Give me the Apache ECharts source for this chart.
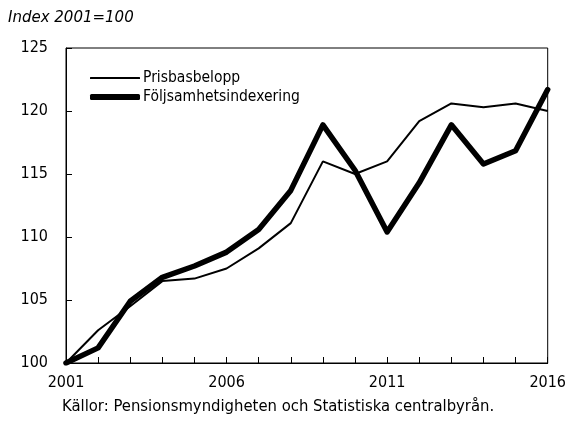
<!DOCTYPE html>
<html>
<head>
<meta charset="utf-8">
<script src="https://cdn.jsdelivr.net/npm/echarts@6/dist/echarts.min.js"></script>
<style>
  html, body { margin: 0; padding: 0; background: #fff; }
  #chart { width: 569px; height: 423px; }
</style>
</head>
<body>
<div id="chart"></div>
<script>
const years = ['2001', '2002', '2003', '2004', '2005', '2006', '2007', '2008',
  '2009', '2010', '2011', '2012', '2013', '2014', '2015', '2016']
// Index 2001=100
const prisbasbelopp = [100, 102.6, 104.5, 106.5, 106.7, 107.5, 109.1, 111.1,
  116.0, 115.0, 116.0, 119.2, 120.6, 120.3, 120.6, 120.0]
const foljsamhet = [100, 101.2, 104.9, 106.8, 107.7, 108.8, 110.6, 113.7,
  118.9, 115.3, 110.4, 114.3, 118.9, 115.8, 116.85, 121.7]

const narrow = "'Liberation Sans Narrow', 'DejaVu Sans Condensed', 'Arial Narrow', sans-serif"

var myChart = echarts.init(document.getElementById('chart'), null, { renderer: 'canvas' })

// 每个图例单独一个 legend，方便设置不同线宽
const legendBase = {
  left: 85,
  icon: 'roundRect',
  itemWidth: 50,
  itemGap: 0,
  itemStyle: { color: '#000', borderWidth: 0 },
  textStyle: { fontFamily: narrow, fontSize: 15.5, color: '#000', padding: [0, 0, 0, -2] }
}

var option = {
  animation: false,
  title: {
    text: 'Index 2001=100',
    left: 3,
    top: 6,
    textStyle: {
      fontFamily: 'DejaVu Sans',
      fontStyle: 'italic',
      fontWeight: 'normal',
      fontSize: 15,
      color: '#000'
    }
  },
  graphic: [{
    type: 'text',
    left: 62,
    top: 398,
    style: {
      text: 'Källor: Pensionsmyndigheten och Statistiska centralbyrån.',
      font: '16.5px ' + narrow,
      fill: '#000'
    }
  }],
  legend: [
    { ...legendBase, top: 65, itemHeight: 2, data: ['Prisbasbelopp'] },
    { ...legendBase, top: 84, itemHeight: 6, data: ['Följsamhetsindexering'] }
  ],
  grid: {
    left: 66,
    right: 18,
    top: 48,
    bottom: 60,
    show: true,
    borderColor: '#000',
    borderWidth: 1,
    containLabel: false
  },
  xAxis: {
    type: 'category',
    boundaryGap: false,
    data: years,
    axisLine: { lineStyle: { color: '#000', width: 1 } },
    axisTick: { inside: true, length: 6, interval: 0, lineStyle: { color: '#000' } },
    axisLabel: { interval: 4, margin: 12, color: '#000', fontFamily: narrow, fontSize: 16 },
    splitLine: { show: false }
  },
  yAxis: {
    type: 'value',
    min: 100,
    max: 125,
    interval: 5,
    axisLine: { show: true, lineStyle: { color: '#000', width: 1 } },
    axisTick: { show: true, inside: true, length: 6, lineStyle: { color: '#000' } },
    axisLabel: { margin: 18, color: '#000', fontFamily: narrow, fontSize: 16 },
    splitLine: { show: false }
  },
  series: [
    {
      name: 'Prisbasbelopp',
      type: 'line',
      data: prisbasbelopp,
      symbol: 'none',
      color: '#000',
      lineStyle: { color: '#000', width: 2 }
    },
    {
      name: 'Följsamhetsindexering',
      type: 'line',
      data: foljsamhet,
      symbol: 'none',
      color: '#000',
      lineStyle: { color: '#000', width: 5.5, cap: 'round', join: 'round' }
    }
  ]
}

myChart.setOption(option, true)
</script>
</body>
</html>
